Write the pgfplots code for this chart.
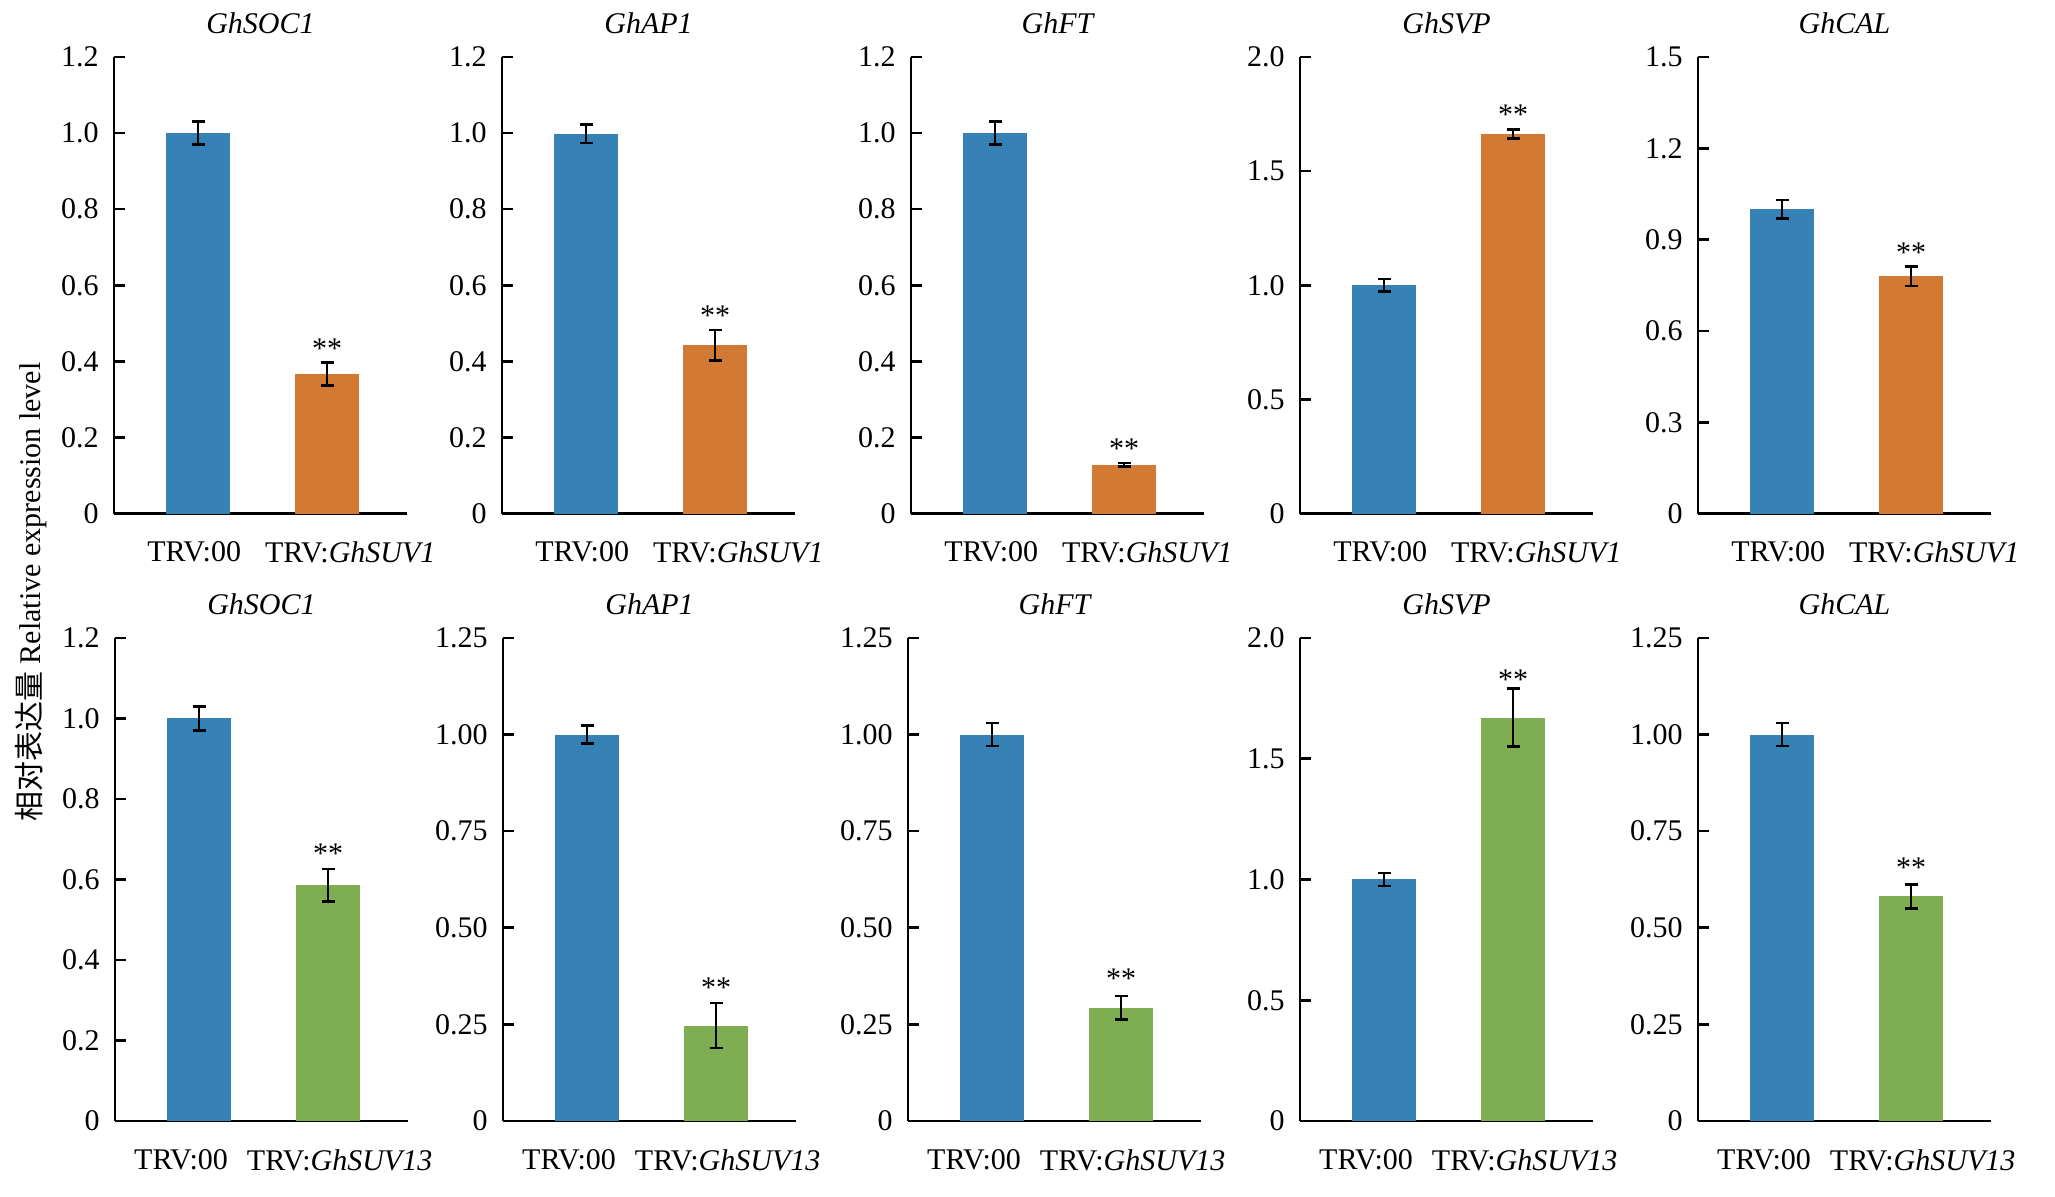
\documentclass[border=0pt]{standalone}
\usepackage{fontspec}
\setmainfont{Liberation Serif}
\newfontfamily\cjk{Noto Sans CJK SC}
\usepackage{pgfplots}
\pgfplotsset{compat=1.18}
\definecolor{cblue}{RGB}{54,129,182}
\definecolor{corange}{RGB}{210,122,52}
\definecolor{cgreen}{RGB}{126,173,82}
\newcommand\fs{\fontsize{15}{18}\selectfont}
\pgfplotsset{
 panel/.style={
  scale only axis, width=146.5pt,
  axis lines=left,
  axis line style={-, line width=1.3pt, black},
  xmin=-0.652, xmax=1.62, ymin=0,
  tick align=inside, major tick length=5.5pt,
  xtick style={draw=none}, ytick style={line width=1.3pt, black},
  every tick label/.append style={font=\fs},
  yticklabel style={anchor=east, inner sep=0pt, xshift=-7.5pt},
  xticklabel style={anchor=north, inner sep=0pt, yshift=-14pt},
  title style={font=\fs\itshape, at={(0.5,1)}, anchor=south, inner sep=0pt, yshift=5.5pt},
  clip=false, anchor=south west,
 },
 row1/.style={height=228.3pt, xtick={-0.03,1.18}, xticklabels={TRV:00, TRV:\textit{GhSUV1}}},
 row2/.style={height=241.5pt, xtick={-0.14,1.09}, xticklabels={TRV:00, TRV:\textit{GhSUV13}}},
 bar/.style={ybar, bar width=32pt, bar shift=0pt, draw=none, fill=#1,
   error bars/.cd, y dir=both, y explicit,
   error bar style={line width=1.3pt, black},
   error mark options={rotate=90, mark size=3.25pt, line width=1.3pt, black}},
}
\newcommand\stars[1]{\node[font=\fs, yshift=-2.4pt] at (axis cs:1,#1) {**};}
\begin{document}
\begin{tikzpicture}
\useasboundingbox (0,0) rectangle (1027.5pt,598.5pt);
% ---------------- Row 1 ----------------
\begin{axis}[panel, row1, at={(57pt,341.7pt)}, title={GhSOC1}, ymax=1.2,
  ytick={0,0.2,0.4,0.6,0.8,1.0,1.2}, yticklabels={0,0.2,0.4,0.6,0.8,1.0,1.2}]
\addplot[bar=cblue] coordinates {(0,1.00) +- (0,0.03)};
\addplot[bar=corange] coordinates {(1,0.367) +- (0,0.03)};
\stars{0.447}
\end{axis}
\begin{axis}[panel, row1, at={(251pt,341.7pt)}, title={GhAP1}, ymax=1.2,
  ytick={0,0.2,0.4,0.6,0.8,1.0,1.2}, yticklabels={0,0.2,0.4,0.6,0.8,1.0,1.2}]
\addplot[bar=cblue] coordinates {(0,0.998) +- (0,0.024)};
\addplot[bar=corange] coordinates {(1,0.443) +- (0,0.04)};
\stars{0.533}
\end{axis}
\begin{axis}[panel, row1, at={(455.5pt,341.7pt)}, title={GhFT}, ymax=1.2,
  ytick={0,0.2,0.4,0.6,0.8,1.0,1.2}, yticklabels={0,0.2,0.4,0.6,0.8,1.0,1.2}]
\addplot[bar=cblue] coordinates {(0,1.00) +- (0,0.03)};
\addplot[bar=corange] coordinates {(1,0.128) +- (0,0.005)};
\stars{0.183}
\end{axis}
\begin{axis}[panel, row1, at={(650pt,341.7pt)}, title={GhSVP}, ymax=2.0,
  ytick={0,0.5,1.0,1.5,2.0}, yticklabels={0,0.5,1.0,1.5,2.0}]
\addplot[bar=cblue] coordinates {(0,1.00) +- (0,0.028)};
\addplot[bar=corange] coordinates {(1,1.663) +- (0,0.02)};
\stars{1.767}
\end{axis}
\begin{axis}[panel, row1, at={(849pt,341.7pt)}, title={GhCAL}, ymax=1.5,
  ytick={0,0.3,0.6,0.9,1.2,1.5}, yticklabels={0,0.3,0.6,0.9,1.2,1.5}]
\addplot[bar=cblue] coordinates {(0,1.00) +- (0,0.03)};
\addplot[bar=corange] coordinates {(1,0.78) +- (0,0.032)};
\stars{0.873}
\end{axis}
% ---------------- Row 2 ----------------
\begin{axis}[panel, row2, at={(57.5pt,38pt)}, title={GhSOC1}, ymax=1.2,
  ytick={0,0.2,0.4,0.6,0.8,1.0,1.2}, yticklabels={0,0.2,0.4,0.6,0.8,1.0,1.2}]
\addplot[bar=cblue] coordinates {(0,1.00) +- (0,0.03)};
\addplot[bar=cgreen] coordinates {(1,0.586) +- (0,0.04)};
\stars{0.675}
\end{axis}
\begin{axis}[panel, row2, at={(251.5pt,38pt)}, title={GhAP1}, ymax=1.25,
  ytick={0,0.25,0.5,0.75,1.0,1.25}, yticklabels={0,0.25,0.50,0.75,1.00,1.25}]
\addplot[bar=cblue] coordinates {(0,1.00) +- (0,0.023)};
\addplot[bar=cgreen] coordinates {(1,0.247) +- (0,0.058)};
\stars{0.357}
\end{axis}
\begin{axis}[panel, row2, at={(454pt,38pt)}, title={GhFT}, ymax=1.25,
  ytick={0,0.25,0.5,0.75,1.0,1.25}, yticklabels={0,0.25,0.50,0.75,1.00,1.25}]
\addplot[bar=cblue] coordinates {(0,1.00) +- (0,0.03)};
\addplot[bar=cgreen] coordinates {(1,0.293) +- (0,0.03)};
\stars{0.38}
\end{axis}
\begin{axis}[panel, row2, at={(650pt,38pt)}, title={GhSVP}, ymax=2.0,
  ytick={0,0.5,1.0,1.5,2.0}, yticklabels={0,0.5,1.0,1.5,2.0}]
\addplot[bar=cblue] coordinates {(0,1.00) +- (0,0.027)};
\addplot[bar=cgreen] coordinates {(1,1.67) +- (0,0.12)};
\stars{1.846}
\end{axis}
\begin{axis}[panel, row2, at={(849pt,38pt)}, title={GhCAL}, ymax=1.25,
  ytick={0,0.25,0.5,0.75,1.0,1.25}, yticklabels={0,0.25,0.50,0.75,1.00,1.25}]
\addplot[bar=cblue] coordinates {(0,1.00) +- (0,0.03)};
\addplot[bar=cgreen] coordinates {(1,0.581) +- (0,0.031)};
\stars{0.669}
\end{axis}
\node[rotate=90, font=\fs] at (15.5pt,302.5pt) {{\cjk 相对表达量} Relative expression level};
\end{tikzpicture}
\end{document}
